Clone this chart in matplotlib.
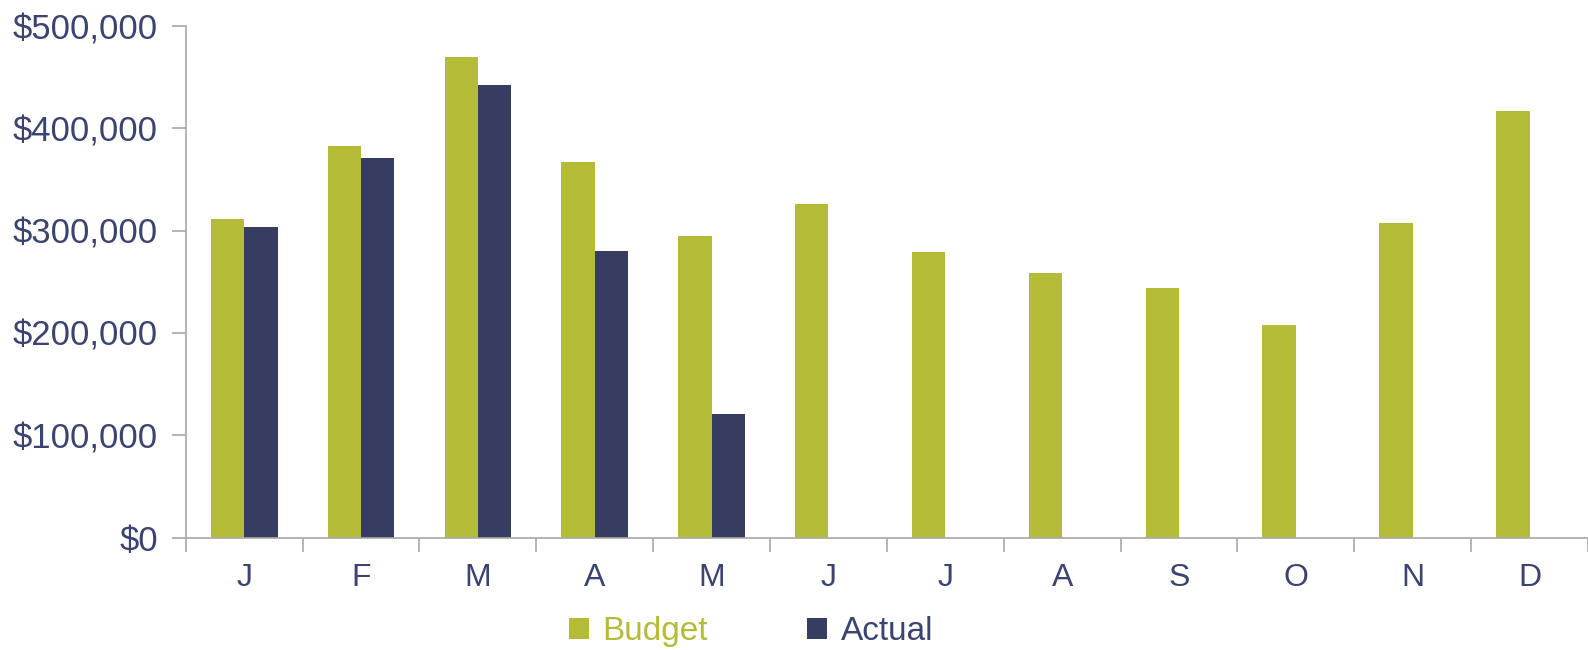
import matplotlib.pyplot as plt
import numpy as np
from matplotlib.ticker import FuncFormatter

months = ["J", "F", "M", "A", "M", "J", "J", "A", "S", "O", "N", "D"]
budget = [311000, 383000, 470000, 367000, 295000, 326000, 279000, 259000, 244000, 208000, 307000, 417000]
actual = [304000, 371000, 442000, 280000, 121000]

green = "#b3bb37"
navy = "#363d60"
text_col = "#3b4370"
grey = "#a8a8a8"

plt.rcParams['font.family'] = ['Liberation Sans', 'DejaVu Sans']

fig = plt.figure(figsize=(15.88, 6.5), dpi=100)
ax = fig.add_axes([0.117, 0.173, 0.883, 0.787])

x = np.arange(len(months))
w = 0.286
ax.bar(x - w / 2, budget, width=w, color=green, label="Budget")
ax.bar(x[:len(actual)] + w / 2, actual, width=w, color=navy, label="Actual")

ax.set_xlim(-0.5, len(months) - 0.5)
ax.set_ylim(0, 500000)
ax.set_yticks(np.arange(0, 500001, 100000))
ax.yaxis.set_major_formatter(FuncFormatter(lambda v, p: "${:,.0f}".format(v)))

# month labels centred, ticks at the boundaries
ax.set_xticks(x)
ax.set_xticklabels(months)
ax.set_xticks(np.arange(0, len(months) + 1) - 0.5, minor=True)
ax.tick_params(axis="x", which="major", length=0, pad=18, labelsize=23, labelcolor=text_col)
ax.tick_params(axis="x", which="minor", length=10, color=grey, width=1.2)
ax.tick_params(axis="y", length=10, color=grey, width=1.2, pad=10, labelsize=25, labelcolor=text_col)

for s in ["top", "right"]:
    ax.spines[s].set_visible(False)
for s in ["left", "bottom"]:
    ax.spines[s].set_color(grey)
    ax.spines[s].set_linewidth(1.2)

leg = ax.legend(loc="center", bbox_to_anchor=(0.403, -0.184), ncol=2, frameon=False,
                fontsize=24, handlelength=0.6, handleheight=0.6, handletextpad=0.4,
                columnspacing=3.0, borderpad=0)
for t, c in zip(leg.get_texts(), [green, text_col]):
    t.set_color(c)

fig.savefig("out.png", dpi=100)
